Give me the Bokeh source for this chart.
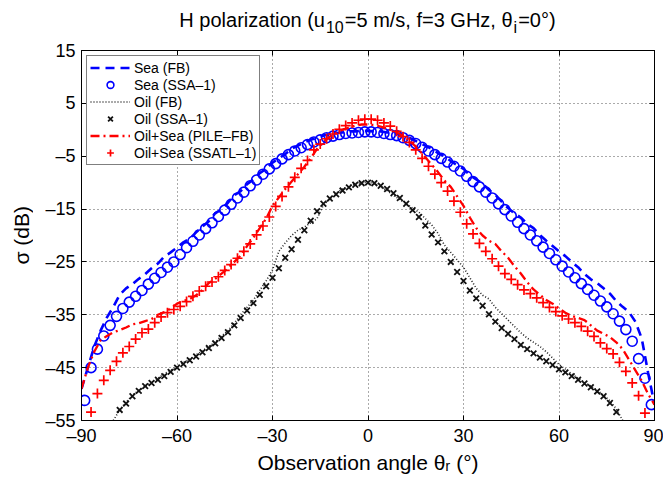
from bokeh.plotting import figure
from bokeh.models import Range1d, FixedTicker, LinearAxis, Legend, Div
from bokeh.layouts import row, column
from bokeh.embed import file_html
from bokeh.resources import INLINE

# ---------------- data ----------------
theta_sea_ssa = list(range(-89, 90, 2))
sea_ssa = [-51.2, -45.0, -41.5, -39.0, -37.0, -35.3, -33.8, -32.6, -31.5, -30.4,
           -29.2, -28.1, -27.0, -26.0, -25.0, -23.6, -22.3, -21.1, -19.9, -18.7,
           -17.6, -16.4, -15.2, -14.1, -12.9, -11.8, -10.6, -9.5, -8.4, -7.4,
           -6.4, -5.5, -4.7, -4.0, -3.4, -2.8, -2.3, -1.9, -1.5, -1.2,
           -0.9, -0.7, -0.6, -0.5, -0.4, -0.4, -0.5, -0.7, -0.9, -1.1,
           -1.5, -2.0, -2.6, -3.3, -4.0, -4.7, -5.4, -6.1, -6.9, -7.8,
           -8.8, -9.8, -10.8, -11.8, -12.9, -14.0, -15.1, -16.3, -17.5, -18.7,
           -19.9, -21.0, -22.2, -23.4, -24.6, -25.8, -26.9, -28.0, -29.1, -30.2,
           -31.3, -32.4, -33.5, -34.8, -36.2, -37.8, -40.0, -43.3, -47.0, -52.0]

theta_fb = list(range(-90, 91, 2))
sea_fb = [-49.0, -45.0, -41.0, -38.0, -35.5, -33.5, -31.2, -30.0, -29.2, -28.2,
          -27.3, -26.2, -25.3, -24.0, -23.2, -22.3, -21.3, -20.6, -19.4, -18.3,
          -17.3, -15.8, -15.0, -13.8, -12.4, -11.6, -10.3, -9.4, -8.2, -7.4,
          -6.2, -5.4, -4.6, -3.6, -3.0, -2.4, -1.9, -1.5, -1.1, -0.8,
          -0.6, -0.5, -0.3, -0.3, -0.2, -0.2, -0.3, -0.3, -0.5, -0.6,
          -0.9, -1.3, -1.8, -2.4, -3.0, -3.6, -4.4, -5.0, -5.9, -6.7,
          -7.4, -8.6, -9.4, -10.2, -11.4, -12.3, -13.6, -14.8, -15.8, -16.6,
          -17.8, -18.6, -19.9, -21.0, -22.0, -23.0, -23.9, -25.0, -26.0, -27.3,
          -28.3, -29.0, -30.0, -31.0, -32.4, -33.5, -34.5, -36.3, -39.5, -46.0,
          -52.0]

theta_oil_ssa = list(range(-78, 79, 2))
oil_ssa = [-53.0, -51.8, -50.4, -49.4, -48.5, -47.9, -47.3, -46.6, -45.8, -45.0,
           -44.3, -43.6, -42.9, -42.1, -41.3, -40.4, -39.4, -38.3, -37.0, -35.6,
           -34.2, -32.8, -31.2, -29.6, -28.0, -26.2, -24.2, -22.6, -20.8, -19.0,
           -17.2, -15.4, -14.0, -13.0, -12.2, -11.5, -10.9, -10.4, -10.1, -10.0,
           -10.1, -10.6, -11.2, -12.0, -12.9, -14.0, -15.2, -16.5, -18.1, -19.8,
           -21.3, -23.0, -25.0, -26.9, -28.6, -30.4, -31.9, -33.3, -34.9, -36.3,
           -37.5, -38.6, -39.6, -40.7, -41.5, -42.3, -43.1, -43.8, -44.5, -45.3,
           -45.9, -46.6, -47.3, -48.0, -48.7, -49.5, -50.4, -51.7, -53.4]

theta_oil_fb = list(range(-80, 81, 2))
oil_fb = [-55.0, -53.0, -51.5, -50.2, -49.3, -48.6, -47.8, -47.0, -46.2, -45.5,
          -44.8, -44.0, -43.4, -42.6, -41.8, -41.0, -40.2, -39.0, -38.0, -36.6,
          -35.0, -33.6, -32.2, -30.4, -28.6, -26.5, -23.0, -21.4, -20.0, -19.0,
          -18.4, -17.6, -16.8, -14.2, -13.2, -12.0, -11.2, -10.6, -10.2, -10.0,
          -9.9, -10.2, -10.8, -11.5, -12.4, -13.2, -14.0, -14.8, -15.6, -16.8,
          -18.0, -19.6, -21.8, -23.2, -24.6, -26.0, -28.0, -30.0, -31.3, -32.0,
          -33.6, -34.8, -36.0, -37.2, -38.4, -39.4, -40.2, -41.0, -42.0, -43.2,
          -44.4, -45.3, -46.2, -47.0, -47.8, -48.5, -49.3, -50.2, -51.3, -52.8,
          -55.0]

theta_mix_ssatl = list(range(-87, 88, 2))
mix_ssatl = [-53.4, -49.9, -47.4, -45.5, -43.8, -42.2, -41.0, -39.6, -38.4, -37.7,
             -36.5, -35.4, -34.6, -34.0, -33.4, -32.5, -31.5, -30.5, -29.6, -28.8,
             -27.8, -26.6, -25.5, -24.3, -23.0, -21.6, -19.9, -18.2, -16.5, -14.5,
             -12.6, -10.8, -9.0, -7.3, -5.8, -3.8, -2.7, -1.7, -0.8, 0.1,
             0.8, 1.3, 1.8, 2.0, 2.0, 1.8, 1.3, 0.7, -0.3, -1.3,
             -2.4, -3.8, -5.4, -6.9, -8.4, -10.0, -11.6, -13.5, -15.6, -17.8,
             -19.7, -21.5, -23.0, -24.4, -25.8, -27.2, -28.3, -29.3, -30.3, -31.0,
             -31.8, -32.7, -33.6, -34.4, -35.2, -35.8, -36.5, -37.2, -38.1, -39.1,
             -40.3, -41.4, -42.4, -44.0, -45.7, -47.9, -50.3, -53.6]

mix_pile = [-49.0, -45.0, -42.0, -39.8, -39.0, -38.3, -37.9, -37.4, -36.8, -36.6,
            -36.2, -35.8, -35.0, -34.5, -33.8, -32.9, -32.4, -32.0, -31.3, -30.3,
            -29.0, -28.2, -27.2, -26.2, -25.0, -23.8, -22.0, -20.4, -18.6, -16.8,
            -14.4, -12.8, -11.2, -9.8, -8.4, -7.0, -5.4, -3.6, -2.3, -1.3,
            -0.6, 0.0, 0.4, 0.8, 1.0, 1.0, 0.9, 0.6, 0.2, -0.2,
            -0.8, -1.6, -2.6, -3.8, -5.2, -6.6, -8.0, -9.6, -10.8, -12.6,
            -14.4, -16.6, -18.6, -20.0, -21.0, -21.6, -23.0, -24.2, -25.8, -27.2,
            -28.8, -30.2, -31.2, -32.2, -32.9, -33.8, -34.6, -35.2, -35.6, -36.0,
            -37.0, -38.0, -38.6, -39.2, -40.2, -41.5, -43.5, -45.5, -47.5, -50.0,
            -52.0]

x_ticks = [-90, -60, -30, 0, 30, 60, 90]
y_ticks = [-55, -45, -35, -25, -15, -5, 5, 15]

FONT = "Liberation Sans"
SUB = '<span style="font-size:16px;position:relative;top:6px;margin:0 1px">{}</span>'
title_html = ("H polarization (u" + SUB.format("10") + "=5 m/s, f=3 GHz, \u03b8"
              + SUB.format("i") + "=0\u00b0)")
xlabel_text = "Observation angle \u03b8\u1d63 (\u00b0)"
ylabel_text = "\u03c3 (dB)"


def dash_label(v):
    return ("\u2013" + str(abs(v))) if v < 0 else str(v)


p = figure(width=629, height=442, output_backend="svg", toolbar_location=None,
           x_range=Range1d(-90, 90), y_range=Range1d(-55, 15))
p.min_border_left = 47
p.min_border_right = 9
p.min_border_top = 14
p.min_border_bottom = 58
p.background_fill_color = "white"
p.border_fill_color = "white"
p.outline_line_color = "black"
p.outline_line_alpha = 1.0

# main axes
for ax, ticks in ((p.xaxis[0], x_ticks), (p.yaxis[0], y_ticks)):
    ax.ticker = FixedTicker(ticks=ticks)
    ax.major_label_overrides = {t: dash_label(t) for t in ticks}
    ax.major_label_text_font = FONT
    ax.major_label_text_font_size = "18px"
    ax.major_label_text_color = "black"
    ax.major_tick_in = 5
    ax.major_tick_out = 0
    ax.minor_tick_line_color = None
    ax.axis_line_color = "black"
    ax.major_tick_line_color = "black"
    ax.axis_label_text_font = FONT
    ax.axis_label_text_font_style = "normal"
    ax.axis_label_text_font_size = "21px"
    ax.axis_label_text_color = "black"

p.xaxis[0].axis_label = xlabel_text
p.xaxis[0].major_label_standoff = 5
p.xaxis[0].axis_label_standoff = 2
p.yaxis[0].major_label_standoff = 6

# box axes (top / right) with inward ticks, no labels
top = LinearAxis(ticker=FixedTicker(ticks=x_ticks), major_tick_in=5, major_tick_out=0,
                 minor_tick_line_color=None, major_label_standoff=0,
                 major_label_overrides={t: "" for t in x_ticks},
                 axis_line_color="black")
right = LinearAxis(ticker=FixedTicker(ticks=y_ticks), major_tick_in=5, major_tick_out=0,
                   minor_tick_line_color=None, major_label_standoff=0,
                   major_label_overrides={t: "" for t in y_ticks},
                   axis_line_color="black")
p.add_layout(top, "above")
p.add_layout(right, "right")

# grid
p.xgrid.ticker = FixedTicker(ticks=x_ticks)
p.ygrid.ticker = FixedTicker(ticks=y_ticks)
for g in (p.xgrid[0], p.ygrid[0]):
    g.grid_line_color = "#444444"
    g.grid_line_alpha = 0.9
    g.grid_line_width = 1
    g.grid_line_dash = "1 3"

# data
r1 = p.line(theta_fb, sea_fb, line_color="#0000ff", line_width=2.6, line_dash="9 6")
r2 = p.scatter(theta_sea_ssa, sea_ssa, marker="circle", size=10, fill_color=None,
               line_color="#0000ff", line_width=1.6)
r3 = p.line(theta_oil_fb, oil_fb, line_color="#222222", line_width=1.6, line_dash="1 2")
r4 = p.scatter(theta_oil_ssa, oil_ssa, marker="x", size=8, line_color="#111111",
               line_width=1.8)
r5 = p.line(theta_fb, mix_pile, line_color="#ff0000", line_width=2.3, line_dash="9 4 2 4")
r6 = p.scatter(theta_mix_ssatl, mix_ssatl, marker="cross", size=10, line_color="#ff0000",
               line_width=1.7)

legend = Legend(items=[("Sea (FB)", [r1]), ("Sea (SSA\u20131)", [r2]),
                       ("Oil (FB)", [r3]), ("Oil (SSA\u20131)", [r4]),
                       ("Oil+Sea (PILE\u2013FB)", [r5]), ("Oil+Sea (SSATL\u20131)", [r6])],
                location="top_left")
legend.label_text_font = FONT
legend.label_text_font_size = "14px"
legend.label_text_color = "black"
legend.label_height = 17
legend.glyph_height = 17
legend.glyph_width = 40
legend.label_standoff = 4
legend.spacing = 0
legend.padding = 3
legend.margin = 5
legend.border_line_color = "black"
legend.border_line_width = 1
legend.background_fill_color = "white"
legend.background_fill_alpha = 1.0
p.add_layout(legend, "center")

title_div = Div(
    text=('<div style="width:573px;height:36px;box-sizing:border-box;padding-top:10px;'
          'font-family:\'Liberation Sans\';font-size:20px;line-height:20px;color:black;'
          'text-align:center;white-space:nowrap">' + title_html + '</div>'),
    width=573, height=36, margin=(0, 9, 0, 47))

ylabel_div = Div(
    text=('<div style="width:34px;height:470px;box-sizing:border-box;padding-left:10px;'
          'display:flex;align-items:center;justify-content:center;'
          'font-family:\'Liberation Sans\';font-size:21px;color:black">'
          '<span style="writing-mode:vertical-rl;transform:rotate(180deg);'
          'white-space:nowrap">' + ylabel_text + '</span></div>'),
    width=34, height=478, margin=(0, 0, 0, 0))

layout = row(ylabel_div, column(title_div, p, spacing=0), spacing=0)

open("out.html", "w").write(file_html(layout, INLINE))
